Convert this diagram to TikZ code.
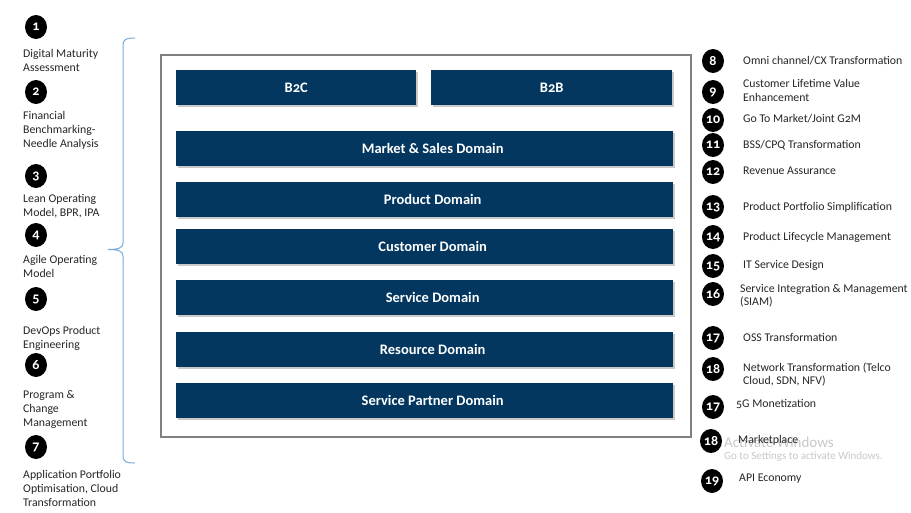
\documentclass[tikz,border=0pt]{standalone}
\usepackage{fontspec}
\setmainfont{Carlito}[Numbers=OldStyle]
\usetikzlibrary{shadows,shapes.geometric}
\definecolor{navy}{RGB}{3,55,96}
\definecolor{bracecol}{RGB}{120,170,220}
\definecolor{framecol}{RGB}{128,128,128}
\definecolor{wmark}{RGB}{200,200,200}
\tikzset{
  dombox/.style={fill=navy, text=white, font=\fontsize{14.5}{16}\selectfont\bfseries,
    inner sep=0pt, minimum height=35pt, anchor=north west,
    drop shadow={shadow xshift=1.5pt, shadow yshift=-1.5pt, fill=black!35, opacity=0.6}},
  offtext/.style={execute at begin node={\hspace*{16pt}}},
  numdot/.style={ellipse, fill=black, text=white, inner sep=0pt, minimum width=22pt,
    minimum height=24pt, font=\fontsize{14}{14}\selectfont\bfseries},
  ltxt/.style={anchor=west, align=left, inner sep=0pt, text=black!85,
    font=\fontsize{11.8}{14}\selectfont},
  rtxt/.style={anchor=west, align=left, inner sep=0pt, text=black!85,
    font=\fontsize{11.8}{13.2}\selectfont},
}
\begin{document}
\begin{tikzpicture}[x=1pt,y=-1pt]
\useasboundingbox[fill=white] (0,0) rectangle (911,512);
% frame
\draw[framecol, line width=1.2pt] (161,55) rectangle (691,437);
% domain boxes
\node[dombox, minimum width=240pt] (b2c) at (176,70) {B2C};
\node[dombox, minimum width=241pt] (b2b) at (431,70) {B2B};
\node[dombox, offtext, minimum width=497pt] (mkt) at (176,131) {Market \& Sales Domain};
\node[dombox, offtext, minimum width=497pt] (prod) at (176,182) {Product Domain};
\node[dombox, offtext, minimum width=497pt] (cust) at (176,229) {Customer Domain};
\node[dombox, offtext, minimum width=497pt] (serv) at (176,280) {Service Domain};
\node[dombox, offtext, minimum width=497pt] (res) at (176,332) {Resource Domain};
\node[dombox, offtext, minimum width=497pt] (spd) at (176,383) {Service Partner Domain};
% brace
\coordinate (bt) at (135,38);
\coordinate (bm) at (108,249.5);
\coordinate (bb) at (135,463);
\draw[bracecol, line width=1pt] (bt) .. controls (126,38) and (123,39) .. (123,46)
  -- (123,243) .. controls (123,248) and (118,249.5) .. (bm)
  .. controls (118,249.5) and (123,251) .. (123,256)
  -- (123,455) .. controls (123,462) and (126,463) .. (bb);
% left items
\node[numdot] (n1) at (36,27) {1};
\node[ltxt] (t1) at (23,60.5) {Digital Maturity\\Assessment};
\node[numdot] (n2) at (36,92) {2};
\node[ltxt] (t2) at (23,130) {Financial\\Benchmarking-\\Needle Analysis};
\node[numdot] (n3) at (36,176) {3};
\node[ltxt] (t3) at (23,206) {Lean Operating\\Model, BPR, IPA};
\node[numdot] (n4) at (36,235) {4};
\node[ltxt] (t4) at (23,266) {Agile Operating\\Model};
\node[numdot] (n5) at (36,299) {5};
\node[ltxt] (t5) at (23,338) {DevOps Product\\Engineering};
\node[numdot] (n6) at (36,365) {6};
\node[ltxt] (t6) at (23,409) {Program \&\\Change\\Management};
\node[numdot] (n7) at (36,447) {7};
\node[ltxt] (t7) at (23,488) {Application Portfolio\\Optimisation, Cloud\\Transformation};
% watermark
\node[anchor=west, inner sep=0pt, text=wmark, font=\fontsize{15}{15}\selectfont] (wm1) at (724,442) {Activate Windows};
\node[anchor=west, inner sep=0pt, text=wmark, font=\fontsize{11}{11}\selectfont] (wm2) at (724,457) {Go to Settings to activate Windows.};
% right items
\node[numdot] (r8) at (713,61) {8};
\node[rtxt] (s8) at (743,61) {Omni channel/CX Transformation};
\node[numdot] (r9) at (713,92) {9};
\node[rtxt] (s9) at (743,90.5) {Customer Lifetime Value\\Enhancement};
\node[numdot] (r10) at (713,120) {10};
\node[rtxt] (s10) at (743,119) {Go To Market/Joint G2M};
\node[numdot] (r11) at (713,145) {11};
\node[rtxt] (s11) at (743,145) {BSS/CPQ Transformation};
\node[numdot] (r12) at (713,172) {12};
\node[rtxt] (s12) at (743,171) {Revenue Assurance};
\node[numdot] (r13) at (713,207) {13};
\node[rtxt] (s13) at (743,207) {Product Portfolio Simplification};
\node[numdot] (r14) at (713,237) {14};
\node[rtxt] (s14) at (743,237) {Product Lifecycle Management};
\node[numdot] (r15) at (713,266) {15};
\node[rtxt] (s15) at (743,265) {IT Service Design};
\node[numdot] (r16) at (713,294) {16};
\node[rtxt] (s16) at (740,295.5) {Service Integration \& Management\\(SIAM)};
\node[numdot] (r17) at (713,338) {17};
\node[rtxt] (s17) at (743,337) {OSS Transformation};
\node[numdot] (r18) at (713,369) {18};
\node[rtxt] (s18) at (743,374.5) {Network Transformation (Telco\\Cloud, SDN, NFV)};
\node[numdot] (r17b) at (713,407) {17};
\node[rtxt] (s17b) at (736,404) {5G Monetization};
\node[numdot] (r18b) at (711,441) {18};
\node[rtxt] (s18b) at (738,440) {Marketplace};
\node[numdot] (r19) at (712,481) {19};
\node[rtxt] (s19) at (739,479) {API Economy};
\end{tikzpicture}
\end{document}
